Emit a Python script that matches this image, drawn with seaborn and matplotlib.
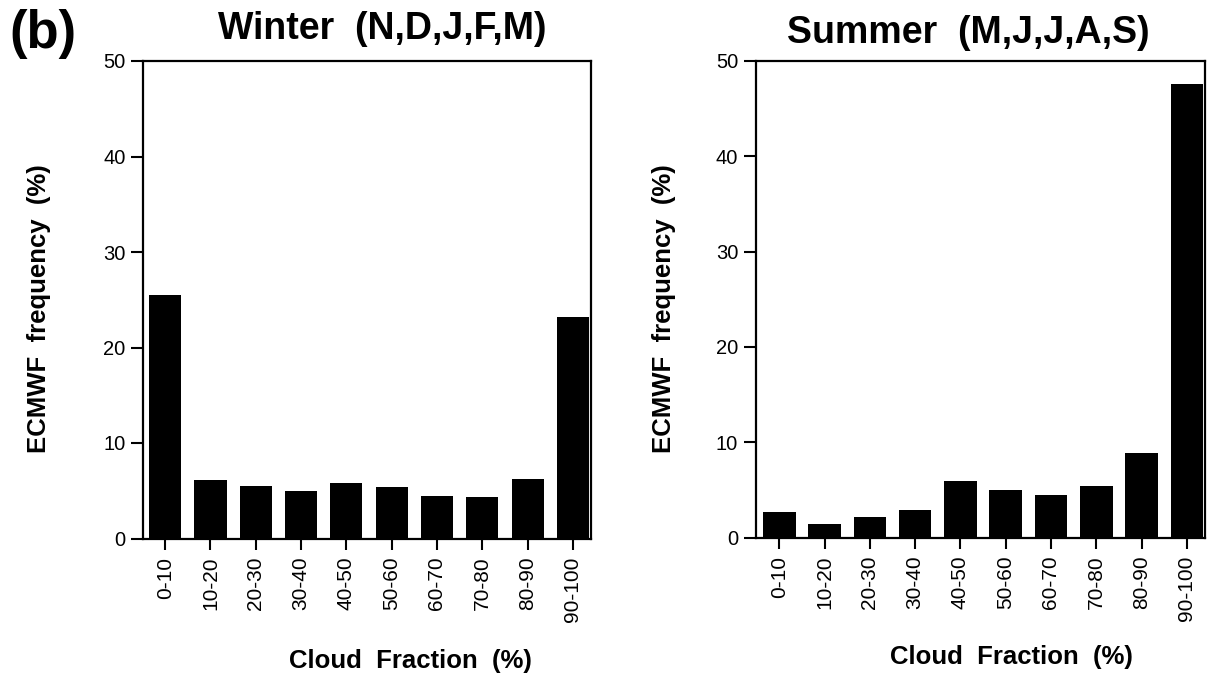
import matplotlib
matplotlib.use("Agg")
import matplotlib.pyplot as plt
import seaborn as sns
import pandas as pd

categories = ["0-10", "10-20", "20-30", "30-40", "40-50", "50-60", "60-70", "70-80", "80-90", "90-100"]
winter = [25.45, 6.1, 5.5, 5.0, 5.8, 5.4, 4.5, 4.35, 6.25, 23.2]
summer = [2.7, 1.45, 2.1, 2.9, 5.9, 5.0, 4.5, 5.45, 8.9, 47.6]
yticks = [0, 10, 20, 30, 40, 50]

sns.set_style("ticks")
plt.rcParams['font.family'] = ['Liberation Sans', 'DejaVu Sans']

W, H = 1208, 677
fig = plt.figure(figsize=(W / 100, H / 100), dpi=100)

def px_axes(l, t, r, b):
    return fig.add_axes([l / W, 1 - b / H, (r - l) / W, (b - t) / H])

panels = [
    dict(ax=px_axes(143, 61, 591, 538.5), vals=winter, title="Winter  (N,D,J,F,M)",
         xl=(-0.49, 9.40), width=0.71, title_xy=(382, 39), xlab_xy=(410, 668), ylab_xy=(39, 309)),
    dict(ax=px_axes(755.5, 61, 1204.5, 537.5), vals=summer, title="Summer  (M,J,J,A,S)",
         xl=(-0.525, 9.39), width=0.72, title_xy=(968, 43), xlab_xy=(1011, 664), ylab_xy=(664, 309)),
]

for p in panels:
    ax = p["ax"]
    df = pd.DataFrame({"cat": categories, "val": p["vals"]})
    sns.barplot(data=df, x="cat", y="val", ax=ax, color="black", width=p["width"],
                saturation=1, edgecolor="black", linewidth=0)
    ax.set_xlim(*p["xl"])
    ax.set_ylim(0, 50)
    ax.set_yticks(yticks)
    ax.set_yticklabels([str(v) for v in yticks], fontsize=14.5, color="black")
    ax.set_xticks(range(len(categories)))
    ax.set_xticklabels(categories, rotation=90, fontsize=15, color="black")
    ax.tick_params(axis="y", direction="out", length=8.5, width=1.5, color="black", pad=4)
    ax.tick_params(axis="x", direction="out", length=8, width=1.5, color="black", pad=5)
    for s in ax.spines.values():
        s.set_visible(True)
        s.set_linewidth(1.6)
        s.set_color("black")
    ax.set_xlabel("")
    ax.set_ylabel("")
    tx, ty = p["title_xy"]
    fig.text(tx / W, 1 - ty / H, p["title"], ha="center", va="baseline",
             fontsize=27, fontweight="bold", color="black")
    lx, ly = p["xlab_xy"]
    fig.text(lx / W, 1 - ly / H, "Cloud  Fraction  (%)", ha="center", va="baseline",
             fontsize=18.5, fontweight="bold", color="black")
    yx, yy = p["ylab_xy"]
    fig.text(yx / W, 1 - yy / H, "ECMWF  frequency  (%)", ha="center", va="center",
             rotation=90, fontsize=18.5, fontweight="bold", color="black")

fig.text(43 / W, 1 - 34 / H, "(b)", ha="center", va="center", fontsize=38,
         fontweight="bold", color="black")

fig.savefig("out.png", dpi=100, facecolor="white")
